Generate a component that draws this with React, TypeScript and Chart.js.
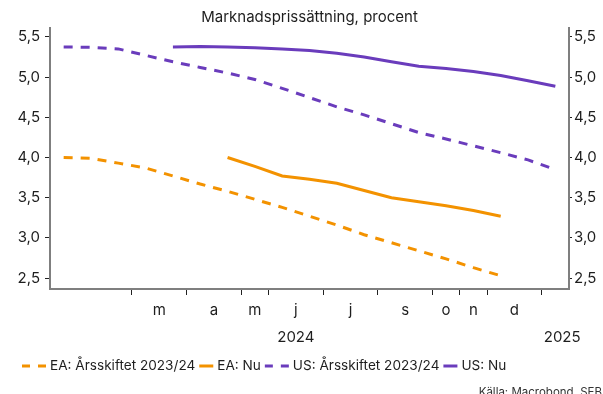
import React, { useEffect, useRef } from 'react';
import { Chart, registerables } from 'chart.js';

Chart.register(...registerables);

// Policy meetings along the x axis (index positions)
const meetingIndex = [0, 1, 2, 3, 4, 5, 6, 7, 8, 9, 10, 11, 12, 13, 14, 15, 16, 17, 18];

// Market-implied policy rates, percent
const eaYearEnd = [4.0, 3.99, 3.93, 3.87, 3.77, 3.67, 3.58, 3.48, 3.38, 3.27, 3.16, 3.04, 2.94, 2.84, 2.74, 2.63, 2.53, null, null];
const eaNow = [null, null, null, null, null, null, 4.0, 3.89, 3.77, 3.73, 3.68, 3.59, 3.5, 3.45, 3.4, 3.34, 3.27, null, null];
const usYearEnd = [5.375, 5.37, 5.35, 5.27, 5.19, 5.12, 5.05, 4.97, 4.86, 4.745, 4.63, 4.53, 4.42, 4.31, 4.23, 4.145, 4.06, 3.97, 3.85];
const usNow = [null, null, null, null, 5.375, 5.38, 5.375, 5.365, 5.35, 5.33, 5.295, 5.25, 5.19, 5.135, 5.105, 5.07, 5.02, 4.955, 4.885];

const seriesLabels = ['EA: Årsskiftet 2023/24', 'EA: Nu', 'US: Årsskiftet 2023/24', 'US: Nu'];

// Month separators sit between meetings; month letters sit mid-section
const monthBoundaries = [2.5, 4.5, 6.5, 7.5, 9.5, 11.5, 13.5, 14.5, 15.5, 17.5];
const monthLabels = ['m', 'a', 'm', 'j', 'j', 's', 'o', 'n', 'd'];
const monthLabelPos = [3.5, 5.5, 7.0, 8.5, 10.5, 12.5, 14.0, 15.0, 16.5];
const yearLabels = ['2024', '2025'];
const yearLabelPos = [8.5, 18.25];

const yTicks = [2.5, 3.0, 3.5, 4.0, 4.5, 5.0, 5.5];

const SUBTITLE = 'Marknadsprissättning, procent';
const SOURCE = 'Källa: Macrobond, SEB';

const ORANGE = '#F39200';
const PURPLE = '#6A3CBC';
const FONT = 'Inter, "Noto Sans", sans-serif';
const TEXT = '#1e1e1e';
const AXIS = '#7f7f7f';

const near = (a: number, b: number) => Math.abs(a - b) < 1e-6;

function xLabel(value: number): string | string[] {
  const mi = monthLabelPos.findIndex((p) => near(p, value));
  const yi = yearLabelPos.findIndex((p) => near(p, value));
  if (mi < 0 && yi < 0) return '';
  return [mi >= 0 ? monthLabels[mi] : '', yi >= 0 ? yearLabels[yi] : ''];
}

const decorPlugin = {
  id: 'decor',
  afterDraw(chart: any) {
    const { ctx, chartArea } = chart;
    ctx.save();
    ctx.fillStyle = TEXT;
    ctx.textBaseline = 'middle';

    // subtitle
    ctx.font = `15px ${FONT}`;
    ctx.textAlign = 'center';
    ctx.fillText(SUBTITLE, (chartArea.left + chartArea.right) / 2, 17.5);

    // legend
    ctx.font = `13.6px ${FONT}`;
    ctx.textAlign = 'left';
    let x = 22;
    const y = 366;
    chart.data.datasets.forEach((ds: any) => {
      const dashed = Array.isArray(ds.borderDash) && ds.borderDash.length > 0;
      const w = dashed ? 24 : 14;
      ctx.strokeStyle = ds.borderColor;
      ctx.lineWidth = 3;
      ctx.setLineDash(dashed ? [8, 8] : []);
      ctx.beginPath();
      ctx.moveTo(x, y);
      ctx.lineTo(x + w, y);
      ctx.stroke();
      ctx.setLineDash([]);
      x += w + 4;
      ctx.fillStyle = TEXT;
      ctx.fillText(ds.label, x, y);
      x += ctx.measureText(ds.label).width + 4;
    });

    // source
    ctx.font = `11.5px ${FONT}`;
    ctx.textAlign = 'right';
    ctx.fillStyle = '#333';
    ctx.fillText(SOURCE, 602, 393);
    ctx.restore();
  },
};

export default function App() {
  const canvasRef = useRef<HTMLCanvasElement | null>(null);

  useEffect(() => {
    if (!canvasRef.current) return;
    const toPoints = (vals: (number | null)[]) => meetingIndex.map((i) => ({ x: i, y: vals[i] }));
    const line = (label: string, vals: (number | null)[], color: string, dashed: boolean) => ({
      label,
      data: toPoints(vals),
      borderColor: color,
      backgroundColor: color,
      borderWidth: 3,
      borderDash: dashed ? [9, 8] : [],
      pointRadius: 0,
      tension: 0,
      spanGaps: false,
      fill: false,
    });

    const yScale = (position: 'left' | 'right') => ({
      type: 'linear' as const,
      position,
      min: 2.365,
      max: 5.61,
      afterBuildTicks: (s: any) => {
        s.ticks = yTicks.map((v) => ({ value: v }));
      },
      afterFit: (s: any) => {
        s.width = position === 'left' ? 50 : 34;
      },
      border: { display: true, color: AXIS, width: 2 },
      grid: {
        drawOnChartArea: false,
        drawTicks: true,
        tickLength: position === 'left' ? 5 : 3,
        tickColor: '#222',
        tickWidth: 1,
      },
      ticks: {
        color: TEXT,
        font: { family: FONT, size: 15 },
        padding: position === 'left' ? 5 : 2,
        callback: (v: any) => Number(v).toFixed(1).replace('.', ','),
      },
    });

    const chart = new Chart(canvasRef.current, {
      type: 'line',
      data: {
        datasets: [
          line(seriesLabels[0], eaYearEnd, ORANGE, true),
          line(seriesLabels[1], eaNow, ORANGE, false),
          line(seriesLabels[2], usYearEnd, PURPLE, true),
          line(seriesLabels[3], usNow, PURPLE, false),
        ],
      },
      options: {
        responsive: false,
        animation: false,
        devicePixelRatio: 1,
        layout: { padding: { top: 28, bottom: 35, left: 0, right: 0 } },
        plugins: {
          legend: { display: false },
          title: { display: false },
          tooltip: { enabled: false },
        },
        scales: {
          x: {
            type: 'linear',
            min: -0.5,
            max: 18.5,
            afterBuildTicks: (s: any) => {
              const vals = [...monthBoundaries, ...monthLabelPos, yearLabelPos[1]];
              s.ticks = vals.sort((a, b) => a - b).map((v) => ({ value: v }));
            },
            afterFit: (s: any) => {
              s.height = 70;
            },
            border: { display: true, color: AXIS, width: 2 },
            grid: {
              drawOnChartArea: false,
              drawTicks: true,
              tickLength: 6,
              tickWidth: 1,
              tickColor: (c: any) =>
                c.tick && monthBoundaries.some((b) => near(b, c.tick.value)) ? '#222' : 'rgba(0,0,0,0)',
            },
            ticks: {
              autoSkip: false,
              maxRotation: 0,
              minRotation: 0,
              padding: 2,
              color: TEXT,
              font: { family: FONT, size: 15, lineHeight: 1.8 },
              callback: (v: any) => xLabel(Number(v)),
            },
          },
          y: yScale('left'),
          y2: yScale('right'),
        },
      },
      plugins: [decorPlugin],
    });
    return () => chart.destroy();
  }, []);

  return (
    <div style={{ position: 'absolute', left: 0, top: 0, width: 603, height: 394, background: '#fff' }}>
      <canvas ref={canvasRef} width={603} height={394} style={{ display: 'block' }} />
    </div>
  );
}
